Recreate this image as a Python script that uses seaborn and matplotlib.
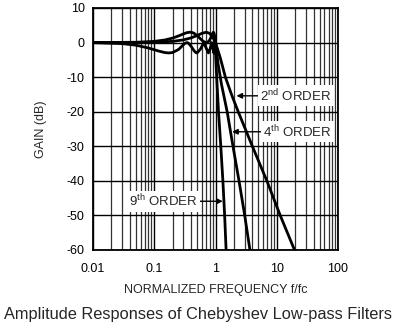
import numpy as np
import pandas as pd
import matplotlib
matplotlib.use("Agg")
import matplotlib.pyplot as plt
import seaborn as sns
from matplotlib.ticker import LogLocator, NullFormatter

# ---- data ----
freq_2nd = [0.01, 0.05, 0.1, 0.2, 0.3, 0.4, 0.5, 0.6, 0.707, 0.8, 0.9, 1.0,
            1.2, 1.45, 1.85, 2.35, 4.0, 6.9, 11.4, 19.5]
gain_2nd = [0.0, 0.02, 0.09, 0.35, 0.78, 1.36, 2.03, 2.67, 3.0, 2.67, 1.59, 0.0,
            -4.5, -10.0, -15.3, -20.0, -30.0, -40.0, -50.0, -60.0]

freq_4th = [0.01, 0.05, 0.1, 0.15, 0.2, 0.25, 0.3, 0.34, 0.383, 0.42, 0.45, 0.5,
            0.55, 0.6, 0.65, 0.707, 0.76, 0.8, 0.85, 0.89, 0.924, 0.95, 0.97, 1.0,
            1.1, 1.25, 1.55, 1.93, 2.42, 3.0, 3.65]
gain_4th = [0.0, 0.09, 0.34, 0.76, 1.30, 1.93, 2.51, 2.86, 3.0, 2.89, 2.65, 2.03,
            1.32, 0.68, 0.21, 0.0, 0.21, 0.68, 1.65, 2.58, 3.0, 2.64, 1.84, 0.0,
            -6.0, -12.0, -20.0, -30.0, -40.0, -50.0, -60.0]

freq_9th = [0.01, 0.03, 0.05, 0.08, 0.12, 0.15, 0.174, 0.2, 0.25, 0.3, 0.32, 0.342,
            0.36, 0.4, 0.45, 0.48, 0.5, 0.57, 0.643, 0.7, 0.766, 0.82, 0.866, 0.9,
            0.94, 0.965, 0.985, 1.0, 1.06, 1.12, 1.22, 1.32, 1.41, 1.49]
gain_9th = [-0.03, -0.30, -0.75, -1.56, -2.49, -2.90, -3.0, -2.87, -1.98, -0.61, -0.19, 0.0,
            -0.13, -1.08, -2.44, -2.91, -3.0, -1.86, 0.0, -1.49, -3.0, -1.72, 0.0, -1.35,
            -3.0, -1.84, 0.0, -3.0, -12.0, -20.0, -30.0, -40.0, -50.0, -60.0]

orders = ["2nd", "4th", "9th"]
x_ticks = [0.01, 0.1, 1, 10, 100]
x_tick_labels = ["0.01", "0.1", "1", "10", "100"]
y_ticks = [-60, -50, -40, -30, -20, -10, 0, 10]

df = pd.concat([
    pd.DataFrame({"freq": freq_2nd, "gain": gain_2nd, "order": orders[0]}),
    pd.DataFrame({"freq": freq_4th, "gain": gain_4th, "order": orders[1]}),
    pd.DataFrame({"freq": freq_9th, "gain": gain_9th, "order": orders[2]}),
], ignore_index=True)

sns.set_style("white")
plt.rcParams['font.family'] = ['Liberation Sans', 'DejaVu Sans']
plt.rcParams['mathtext.fontset'] = 'custom'
plt.rcParams['mathtext.rm'] = 'Liberation Sans'
plt.rcParams['mathtext.it'] = 'Liberation Sans:italic'

W, H = 395, 334
fig = plt.figure(figsize=(W / 100, H / 100), dpi=100)
ax = fig.add_axes([93 / W, 1 - 250 / H, 245 / W, 242 / H])

sns.lineplot(data=df, x="freq", y="gain", hue="order", palette=["black"] * 3,
             estimator=None, sort=False, lw=2.0, legend=False, ax=ax, zorder=3)

ax.set_xscale("log")
ax.set_xlim(0.01, 100)
ax.set_ylim(-60, 10)
ax.set_xticks(x_ticks)
ax.set_xticklabels(x_tick_labels)
ax.xaxis.set_minor_locator(LogLocator(base=10, subs=np.arange(2, 10)))
ax.xaxis.set_minor_formatter(NullFormatter())
ax.set_yticks(y_ticks)
ax.set_yticklabels([str(v) for v in y_ticks])
ax.set_axisbelow(True)
ax.grid(which="major", color="black", lw=1.0)
ax.grid(which="minor", axis="x", color="#333333", lw=0.9)
ax.tick_params(which="both", length=0, labelsize=9, colors="black")
ax.tick_params(axis="x", pad=9)
ax.tick_params(axis="y", pad=6)
for s in ax.spines.values():
    s.set_color("black")
    s.set_linewidth(1.3)

ax.set_xlabel("NORMALIZED FREQUENCY f/fc", fontsize=9, labelpad=7)
ax.set_ylabel("GAIN (dB)", fontsize=9, labelpad=14)

arrow = dict(arrowstyle="-|>", color="black", lw=1.0, shrinkA=0, shrinkB=0,
             mutation_scale=8)
box = dict(fc="white", ec="none", pad=1.5)
ax.annotate("2$^{\\mathrm{nd}}$ ORDER", xy=(2.2, -15.4), xytext=(5.4, -15.4),
            ha="left", va="center", fontsize=9.5, arrowprops=arrow, bbox=box, zorder=5)
ax.annotate("4$^{\\mathrm{th}}$ ORDER", xy=(1.87, -25.8), xytext=(6.05, -25.8),
            ha="left", va="center", fontsize=9.5, arrowprops=arrow, bbox=box, zorder=5)
ax.annotate("9$^{\\mathrm{th}}$ ORDER", xy=(1.315, -45.9), xytext=(0.0387, -45.9),
            ha="left", va="center", fontsize=9.5, arrowprops=arrow, bbox=box, zorder=5)

fig.text(0.5, 1 - 315 / H, "Amplitude Responses of Chebyshev Low-pass Filters",
         ha="center", va="center", fontsize=11.8)

fig.savefig("out.png", dpi=100)
